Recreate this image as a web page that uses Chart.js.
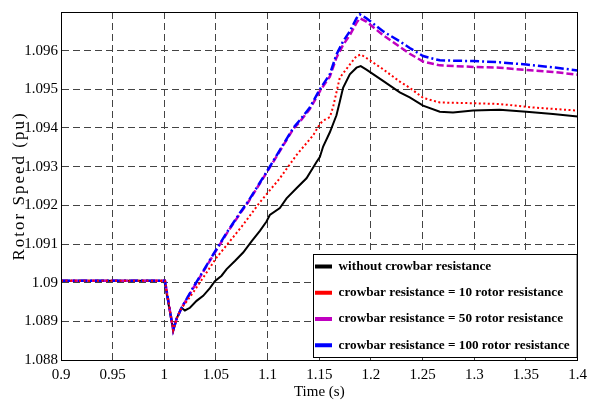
<!DOCTYPE html>
<html><head><meta charset="utf-8">
<script src="https://cdn.jsdelivr.net/npm/chart.js@4.4.0/dist/chart.umd.min.js"></script>
<style>html,body{margin:0;padding:0;background:#fff;}canvas{display:block}</style>
</head><body>
<canvas id="c" width="593" height="408"></canvas>
<script>
const seriesNames = [
  'without crowbar resistance',
  'crowbar resistance = 10 rotor resistance',
  'crowbar resistance = 50 rotor resistance',
  'crowbar resistance = 100 rotor resistance'
];
const xTicks = [0.9, 0.95, 1, 1.05, 1.1, 1.15, 1.2, 1.25, 1.3, 1.35, 1.4];
const yTicks = [1.088, 1.089, 1.09, 1.091, 1.092, 1.093, 1.094, 1.095, 1.096];

// shared pre-fault and dip part (all four curves coincide)
const commonTime  = [0.9, 1.0, 1.0006, 1.0086, 1.0119, 1.0167];
const commonSpeed = [1.09005, 1.09005, 1.09005, 1.08877, 1.08907, 1.08935];

const blackTime = [1.0199, 1.0248, 1.0312, 1.0376, 1.0441, 1.0489, 1.0554, 1.0603, 1.0683, 1.0763,
  1.0844, 1.0925, 1.0989, 1.1021, 1.1118, 1.1183, 1.1279, 1.1376, 1.1473, 1.1505,
  1.1537, 1.1602, 1.1666, 1.1698, 1.1730, 1.1795, 1.1860, 1.1901, 1.1956, 1.2117,
  1.2279, 1.2375, 1.2504, 1.2666, 1.2794, 1.2988, 1.3246, 1.3504, 1.3761, 1.4];
const blackSpeed = [1.08928, 1.08935, 1.08953, 1.08966, 1.08986, 1.09004, 1.09018, 1.09035, 1.09056, 1.09078,
  1.09107, 1.09134, 1.09158, 1.09175, 1.09193, 1.09218, 1.09244, 1.09270, 1.09312, 1.09325,
  1.09352, 1.09389, 1.09433, 1.09468, 1.09504, 1.09539, 1.09556, 1.09560, 1.09551, 1.09522,
  1.09492, 1.09479, 1.09458, 1.09442, 1.09440, 1.09445, 1.09447, 1.09442, 1.09436, 1.09430];

const redTime = [1.0199, 1.0280, 1.0376, 1.0506, 1.0634, 1.0763, 1.0925, 1.1118, 1.1279, 1.1440,
  1.1505, 1.1537, 1.1602, 1.1634, 1.1698, 1.1795, 1.1860, 1.1901, 1.1956, 1.2117,
  1.2279, 1.2375, 1.2504, 1.2666, 1.2988, 1.3246, 1.3568, 1.4];
const redSpeed = [1.08945, 1.08975, 1.09013, 1.09065, 1.09107, 1.09150, 1.09208, 1.09270, 1.09330, 1.09381,
  1.09410, 1.09419, 1.09428, 1.09455, 1.09530, 1.09564, 1.09586, 1.09590, 1.09581, 1.09552,
  1.09520, 1.09504, 1.09478, 1.09466, 1.09464, 1.09462, 1.09453, 1.09445];

const blueTime = [1.0280, 1.0376, 1.0473, 1.0603, 1.0731, 1.0811, 1.1021, 1.1247, 1.1311, 1.1408,
  1.1505, 1.1602, 1.1666, 1.1730, 1.1795, 1.1860, 1.1892, 1.1956, 1.2117, 1.2279,
  1.2375, 1.2504, 1.2666, 1.2988, 1.3246, 1.3504, 1.3761, 1.4];
const blueSpeed = [1.08988, 1.09030, 1.09073, 1.09129, 1.09180, 1.09210, 1.09300, 1.09400, 1.09420, 1.09453,
  1.09500, 1.09539, 1.09590, 1.09624, 1.09650, 1.09684, 1.09694, 1.09684, 1.09650, 1.09624,
  1.09607, 1.09586, 1.09575, 1.09573, 1.09570, 1.09564, 1.09557, 1.09549];

const magentaTime = blueTime;
const magentaSpeed = [1.08986, 1.09028, 1.09071, 1.09127, 1.09178, 1.09208, 1.09298, 1.09397, 1.09416, 1.09449,
  1.09495, 1.09533, 1.09582, 1.09615, 1.09640, 1.09672, 1.09684, 1.09675, 1.09640, 1.09610,
  1.09592, 1.09572, 1.09562, 1.09558, 1.09556, 1.09550, 1.09545, 1.09538];

function pts(t, v) {
  const a = commonTime.map((x, i) => ({x, y: commonSpeed[i]}));
  return a.concat(t.map((x, i) => ({x, y: v[i]})));
}
const fmt = v => String(Number(Number(v).toFixed(3)));
const SERIF = "'Liberation Serif', 'Times New Roman', serif";

const legendBox = {
  id: 'legendBox',
  afterLayout(chart) {
    const s = chart.scales.y;
    if (s && !s.__ls) {
      const orig = s.drawTitle;
      s.drawTitle = function () {
        const c = this.ctx; const p = c.letterSpacing;
        c.letterSpacing = '2px'; orig.call(this); c.letterSpacing = p || '0px';
      };
      s.__ls = true;
    }
  },
  beforeDraw(chart) {
    const lg = chart.legend, ca = chart.chartArea;
    if (!lg) return;
    lg.left = 302; lg.top = 247; lg.right = ca.right; lg.bottom = 420;
  },
  afterDatasetsDraw(chart) {
    const ctx = chart.ctx, ca = chart.chartArea, lg = chart.legend;
    ctx.save();
    ctx.fillStyle = '#fff';
    const L = 313, T = 254, R = ca.right, B = ca.bottom - 2;
    ctx.fillRect(L, T, R - L, B - T);
    ctx.strokeStyle = '#000'; ctx.lineWidth = 1;
    ctx.strokeRect(L + 0.5, T + 0.5, R - L - 1, B - T - 1);
    ctx.restore();
    lg.draw();
    ctx.save();
    ctx.strokeStyle = '#000'; ctx.lineWidth = 1;
    ctx.strokeRect(Math.round(ca.left) + 0.5, Math.round(ca.top) + 0.5, Math.round(ca.right - ca.left) - 1, Math.round(ca.bottom - ca.top));
    ctx.restore();
  }
};

const colors = ['#000000', '#ff0000', '#c000c0', '#0000ff'];

new Chart(document.getElementById('c'), {
  type: 'line',
  data: {
    datasets: [
      {label: seriesNames[0], data: pts(blackTime, blackSpeed), borderColor: colors[0], backgroundColor: colors[0], borderWidth: 2, order: 4},
      {label: seriesNames[1], data: pts(redTime, redSpeed), borderColor: colors[1], backgroundColor: colors[1], borderWidth: 2, borderDash: [2, 2.5], order: 1},
      {label: seriesNames[2], data: pts(magentaTime, magentaSpeed), borderColor: colors[2], backgroundColor: colors[2], borderWidth: 2.5, borderDash: [7, 3], order: 3},
      {label: seriesNames[3], data: pts(blueTime, blueSpeed), borderColor: colors[3], backgroundColor: colors[3], borderWidth: 2.5, borderDash: [9, 3, 2, 3], order: 2}
    ]
  },
  options: {
    responsive: false,
    animation: false,
    devicePixelRatio: 1,
    parsing: true,
    elements: {point: {radius: 0}, line: {tension: 0}},
    layout: {padding: {left: 0, right: 15, top: 8, bottom: 0}},
    plugins: {
      tooltip: {enabled: false},
      legend: {
        position: 'chartArea',
        align: 'start',
        labels: {
          boxWidth: 17, boxHeight: 4, padding: 13, color: '#000',
          font: {family: SERIF, size: 13.2, weight: 'bold'},
          sort: (a, b) => a.datasetIndex - b.datasetIndex,
          generateLabels: (chart) => chart.data.datasets.map((d, i) => ({
            text: d.label, fillStyle: d.borderColor, strokeStyle: d.borderColor,
            lineWidth: 0, lineDash: [], hidden: false, datasetIndex: i, fontColor: '#000'
          }))
        }
      }
    },
    scales: {
      x: {
        type: 'linear', min: 0.9, max: 1.4,
        afterFit: s => { s.height = 48; },
        afterBuildTicks: s => { s.ticks = xTicks.map(v => ({value: v})); },
        ticks: {callback: v => fmt(v), color: '#000', padding: 6, maxRotation: 0, autoSkip: false, font: {family: SERIF, size: 15}},
        grid: {color: '#444', lineWidth: 1, drawTicks: false},
        border: {display: true, color: '#000', dash: [7, 4]},
        title: {display: true, text: 'Time (s)', color: '#000', font: {family: SERIF, size: 15}, padding: {top: 0, bottom: 7}}
      },
      y: {
        type: 'linear', min: 1.088, max: 1.097,
        afterFit: s => { s.width = 61; },
        afterBuildTicks: s => { s.ticks = yTicks.map(v => ({value: v})); },
        ticks: {callback: v => fmt(v), color: '#000', padding: 3, autoSkip: false, font: {family: SERIF, size: 15}},
        grid: {color: '#444', lineWidth: 1, drawTicks: false},
        border: {display: true, color: '#000', dash: [7, 4]},
        title: {display: true, text: 'Rotor Speed (pu)', color: '#000', font: {family: SERIF, size: 17}, padding: {top: 9, bottom: 0}}
      }
    }
  },
  plugins: [legendBox]
});
</script>
</body></html>
